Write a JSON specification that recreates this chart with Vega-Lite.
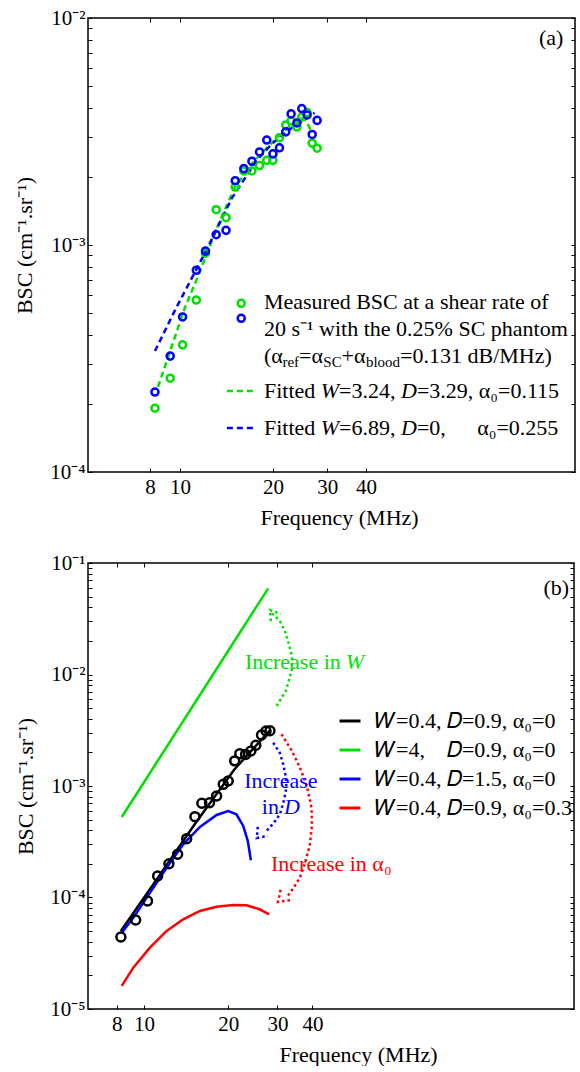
{
  "$schema": "https://vega.github.io/schema/vega-lite/v6.json",
  "background": "white",
  "padding": {"left": 12, "top": 6, "right": 0, "bottom": 0},
  "spacing": 22,
  "config": {
    "font": "Liberation Serif",
    "view": {"stroke": "black", "strokeWidth": 1.5},
    "axis": {
      "domain": false, "grid": false,
      "labelFont": "Liberation Serif", "labelFontSize": 21, "labelColor": "black",
      "titleFont": "Liberation Serif", "titleFontSize": 22, "titleFontWeight": "normal", "titleColor": "black",
      "tickColor": "black", "tickSize": -4, "tickWidth": 1,
      "labelOverlap": false, "labelFlush": false
    },
    "text": {"font": "Liberation Serif", "fontSize": 22, "baseline": "middle"}
  },
  "datasets": {
    "measA": [
      {"f": 8.3, "bsc": 0.000191, "s": "g"}, {"f": 9.3, "bsc": 0.000259, "s": "g"}, {"f": 10.2, "bsc": 0.000363, "s": "g"},
      {"f": 11.3, "bsc": 0.000572, "s": "g"}, {"f": 12.1, "bsc": 0.00092, "s": "g"}, {"f": 13.1, "bsc": 0.00143, "s": "g"},
      {"f": 14.1, "bsc": 0.00132, "s": "g"}, {"f": 15.1, "bsc": 0.0018, "s": "g"}, {"f": 16.1, "bsc": 0.00212, "s": "g"},
      {"f": 17.1, "bsc": 0.00212, "s": "g"}, {"f": 18.1, "bsc": 0.00224, "s": "g"}, {"f": 19.1, "bsc": 0.00236, "s": "g"},
      {"f": 20.0, "bsc": 0.00236, "s": "g"}, {"f": 21.0, "bsc": 0.00297, "s": "g"}, {"f": 22.0, "bsc": 0.00338, "s": "g"},
      {"f": 22.9, "bsc": 0.00352, "s": "g"}, {"f": 23.9, "bsc": 0.00331, "s": "g"}, {"f": 24.8, "bsc": 0.00366, "s": "g"},
      {"f": 25.8, "bsc": 0.00383, "s": "g"}, {"f": 26.8, "bsc": 0.00281, "s": "g"}, {"f": 27.8, "bsc": 0.00267, "s": "g"},
      {"f": 8.3, "bsc": 0.000225, "s": "b"}, {"f": 9.3, "bsc": 0.000324, "s": "b"}, {"f": 10.2, "bsc": 0.000482, "s": "b"},
      {"f": 11.3, "bsc": 0.000774, "s": "b"}, {"f": 12.1, "bsc": 0.00094, "s": "b"}, {"f": 13.1, "bsc": 0.00111, "s": "b"},
      {"f": 14.1, "bsc": 0.00116, "s": "b"}, {"f": 15.1, "bsc": 0.00192, "s": "b"}, {"f": 16.1, "bsc": 0.00217, "s": "b"},
      {"f": 17.1, "bsc": 0.00234, "s": "b"}, {"f": 18.1, "bsc": 0.00257, "s": "b"}, {"f": 19.1, "bsc": 0.0029, "s": "b"},
      {"f": 20.0, "bsc": 0.00252, "s": "b"}, {"f": 21.0, "bsc": 0.00268, "s": "b"}, {"f": 22.0, "bsc": 0.00315, "s": "b"},
      {"f": 22.9, "bsc": 0.00378, "s": "b"}, {"f": 23.9, "bsc": 0.00345, "s": "b"}, {"f": 24.8, "bsc": 0.00399, "s": "b"},
      {"f": 25.8, "bsc": 0.00374, "s": "b"}, {"f": 26.8, "bsc": 0.00307, "s": "b"}, {"f": 27.8, "bsc": 0.00354, "s": "b"}
    ],
    "fitA": [
      {"f": 8.49, "bsc": 0.000237, "s": "g"}, {"f": 10.37, "bsc": 0.000528, "s": "g"}, {"f": 11.52, "bsc": 0.000745, "s": "g"},
      {"f": 13.37, "bsc": 0.00125, "s": "g"}, {"f": 15.07, "bsc": 0.0018, "s": "g"}, {"f": 17.36, "bsc": 0.00234, "s": "g"},
      {"f": 20.1, "bsc": 0.00287, "s": "g"}, {"f": 23.4, "bsc": 0.00345, "s": "g"}, {"f": 24.6, "bsc": 0.00362, "s": "g"},
      {"f": 25.6, "bsc": 0.00355, "s": "g"}, {"f": 26.5, "bsc": 0.0032, "s": "g"},
      {"f": 8.3, "bsc": 0.000341, "s": "b"}, {"f": 9.68, "bsc": 0.000522, "s": "b"}, {"f": 12.14, "bsc": 0.00094, "s": "b"},
      {"f": 13.17, "bsc": 0.00118, "s": "b"}, {"f": 14.73, "bsc": 0.00161, "s": "b"}, {"f": 17.64, "bsc": 0.00234, "s": "b"},
      {"f": 19.85, "bsc": 0.00279, "s": "b"}, {"f": 23.2, "bsc": 0.00331, "s": "b"}, {"f": 27.3, "bsc": 0.00382, "s": "b"}
    ],
    "legSymA": [
      {"f": 15.79, "bsc": 0.0005535, "s": "g"}, {"f": 15.79, "bsc": 0.0004753, "s": "b"}
    ],
    "legDashA": [
      {"f": 14.19, "bsc": 0.0002274, "s": "g"}, {"f": 17.23, "bsc": 0.0002274, "s": "g"},
      {"f": 14.19, "bsc": 0.0001563, "s": "b"}, {"f": 17.23, "bsc": 0.0001563, "s": "b"}
    ],
    "txtA": [
      {"f": 18.7, "bsc": 0.000561, "t": "Measured BSC at a shear rate of", "c": "n"},
      {"f": 18.7, "bsc": 0.0004266, "t": "20 s⁻¹ with the 0.25% SC phantom", "c": "n"},
      {"f": 18.7, "bsc": 0.0003243, "t": "(α", "c": "n"},
      {"f": 21.47, "bsc": 0.0003243, "t": "ref", "c": "s"},
      {"f": 24.29, "bsc": 0.0003243, "t": "=α", "c": "n"},
      {"f": 29.11, "bsc": 0.0003243, "t": "SC", "c": "s"},
      {"f": 33.37, "bsc": 0.0003243, "t": "+α", "c": "n"},
      {"f": 39.99, "bsc": 0.0003243, "t": "blood", "c": "s"},
      {"f": 51.6, "bsc": 0.0003243, "t": "=0.131 dB/MHz)", "c": "n"},
      {"f": 18.7, "bsc": 0.0002274, "t": "Fitted", "c": "n"},
      {"f": 28.56, "bsc": 0.0002274, "t": "W", "c": "i"},
      {"f": 32.75, "bsc": 0.0002274, "t": "=3.24,", "c": "n"},
      {"f": 51.95, "bsc": 0.0002274, "t": "D", "c": "i"},
      {"f": 58.48, "bsc": 0.0002274, "t": "=3.29, α₀=0.115", "c": "n"},
      {"f": 18.7, "bsc": 0.0001565, "t": "Fitted", "c": "n"},
      {"f": 28.56, "bsc": 0.0001565, "t": "W", "c": "i"},
      {"f": 32.75, "bsc": 0.0001565, "t": "=6.89,", "c": "n"},
      {"f": 51.95, "bsc": 0.0001565, "t": "D", "c": "i"},
      {"f": 58.48, "bsc": 0.0001565, "t": "=0,", "c": "n"},
      {"f": 91.65, "bsc": 0.0001565, "t": "α₀=0.255", "c": "n"},
      {"f": 145.2, "bsc": 0.00816, "t": "(a)", "c": "n"}
    ],
    "curB": [
      {"f": 8.27, "bsc": 0.00005, "s": "k"}, {"f": 11.2, "bsc": 0.00015, "s": "k"}, {"f": 15.2, "bsc": 0.000456, "s": "k"},
      {"f": 21.0, "bsc": 0.0014, "s": "k"}, {"f": 28.2, "bsc": 0.00316, "s": "k"},
      {"f": 8.33, "bsc": 0.000527, "s": "g"}, {"f": 27.8, "bsc": 0.0593, "s": "g"},
      {"f": 8.33, "bsc": 0.0000483, "s": "b"}, {"f": 9.16, "bsc": 0.0000659, "s": "b"}, {"f": 10.5, "bsc": 0.00011, "s": "b"},
      {"f": 12.05, "bsc": 0.000185, "s": "b"}, {"f": 13.81, "bsc": 0.0003, "s": "b"}, {"f": 15.85, "bsc": 0.000429, "s": "b"},
      {"f": 18.18, "bsc": 0.00055, "s": "b"}, {"f": 20.0, "bsc": 0.000597, "s": "b"}, {"f": 21.4, "bsc": 0.000557, "s": "b"},
      {"f": 22.63, "bsc": 0.000438, "s": "b"}, {"f": 23.5, "bsc": 0.000321, "s": "b"}, {"f": 24.1, "bsc": 0.000216, "s": "b"},
      {"f": 8.33, "bsc": 0.0000161, "s": "r"}, {"f": 9.16, "bsc": 0.0000235, "s": "r"}, {"f": 10.5, "bsc": 0.0000355, "s": "r"},
      {"f": 12.05, "bsc": 0.0000501, "s": "r"}, {"f": 13.81, "bsc": 0.0000637, "s": "r"}, {"f": 15.85, "bsc": 0.0000757, "s": "r"},
      {"f": 18.18, "bsc": 0.0000827, "s": "r"}, {"f": 20.84, "bsc": 0.0000857, "s": "r"}, {"f": 23.27, "bsc": 0.0000851, "s": "r"},
      {"f": 25.9, "bsc": 0.0000784, "s": "r"}, {"f": 28.03, "bsc": 0.0000707, "s": "r"}
    ],
    "ptsB": [
      {"f": 8.27, "bsc": 0.0000442}, {"f": 9.34, "bsc": 0.0000628}, {"f": 10.3, "bsc": 0.000093}, {"f": 11.19, "bsc": 0.000156},
      {"f": 12.28, "bsc": 0.000201}, {"f": 13.19, "bsc": 0.000244}, {"f": 14.21, "bsc": 0.000337}, {"f": 15.21, "bsc": 0.000531},
      {"f": 16.1, "bsc": 0.0007}, {"f": 17.15, "bsc": 0.000708}, {"f": 18.18, "bsc": 0.000813}, {"f": 19.2, "bsc": 0.001035},
      {"f": 20.0, "bsc": 0.00111}, {"f": 21.1, "bsc": 0.00168}, {"f": 22.0, "bsc": 0.00195}, {"f": 23.07, "bsc": 0.00192},
      {"f": 24.1, "bsc": 0.00206}, {"f": 25.1, "bsc": 0.00232}, {"f": 26.3, "bsc": 0.00287}, {"f": 27.3, "bsc": 0.00311},
      {"f": 28.2, "bsc": 0.00313}
    ],
    "arcB": [
      {"f": 29.8, "bsc": 0.00522, "a": "W", "o": 1}, {"f": 32.1, "bsc": 0.00711, "a": "W", "o": 2},
      {"f": 33.7, "bsc": 0.01075, "a": "W", "o": 3}, {"f": 33.8, "bsc": 0.01466, "a": "W", "o": 4},
      {"f": 33.2, "bsc": 0.0174, "a": "W", "o": 5}, {"f": 32.1, "bsc": 0.02356, "a": "W", "o": 6},
      {"f": 30.6, "bsc": 0.0302, "a": "W", "o": 7}, {"f": 28.6, "bsc": 0.0356, "a": "W", "o": 8},
      {"f": 28.4, "bsc": 0.0302, "a": "Wh", "o": 1}, {"f": 28.2, "bsc": 0.0379, "a": "Wh", "o": 2}, {"f": 30.8, "bsc": 0.0349, "a": "Wh", "o": 3},
      {"f": 28.96, "bsc": 0.002445, "a": "D", "o": 1}, {"f": 30.6, "bsc": 0.001977, "a": "D", "o": 2},
      {"f": 31.45, "bsc": 0.001566, "a": "D", "o": 3}, {"f": 32.1, "bsc": 0.00123, "a": "D", "o": 4},
      {"f": 32.3, "bsc": 0.000966, "a": "D", "o": 5}, {"f": 31.6, "bsc": 0.000734, "a": "D", "o": 6},
      {"f": 30.6, "bsc": 0.000557, "a": "D", "o": 7}, {"f": 29.1, "bsc": 0.000466, "a": "D", "o": 8},
      {"f": 27.4, "bsc": 0.000395, "a": "D", "o": 9},
      {"f": 25.5, "bsc": 0.000429, "a": "Dh", "o": 1}, {"f": 25.3, "bsc": 0.000342, "a": "Dh", "o": 2}, {"f": 27.7, "bsc": 0.000356, "a": "Dh", "o": 3},
      {"f": 31.0, "bsc": 0.00291, "a": "A", "o": 1}, {"f": 33.8, "bsc": 0.00206, "a": "A", "o": 2},
      {"f": 36.1, "bsc": 0.00146, "a": "A", "o": 3}, {"f": 38.2, "bsc": 0.001, "a": "A", "o": 4},
      {"f": 39.7, "bsc": 0.000639, "a": "A", "o": 5}, {"f": 39.8, "bsc": 0.000438, "a": "A", "o": 6},
      {"f": 39.2, "bsc": 0.0003, "a": "A", "o": 7}, {"f": 37.6, "bsc": 0.000204, "a": "A", "o": 8},
      {"f": 36.1, "bsc": 0.000151, "a": "A", "o": 9}, {"f": 34.0, "bsc": 0.000119, "a": "A", "o": 10},
      {"f": 32.3, "bsc": 0.0001, "a": "A", "o": 11},
      {"f": 30.8, "bsc": 0.000117, "a": "Ah", "o": 1}, {"f": 30.1, "bsc": 0.0000912, "a": "Ah", "o": 2}, {"f": 33.5, "bsc": 0.000095, "a": "Ah", "o": 3}
    ],
    "txtB": [
      {"f": 50.5, "bsc": 0.01294, "t": "Increase in", "c": "g"},
      {"f": 50.5, "bsc": 0.01294, "t": "W", "c": "gi"},
      {"f": 30.85, "bsc": 0.001109, "t": "Increase", "c": "bc"},
      {"f": 30.35, "bsc": 0.000648, "t": "in", "c": "b"},
      {"f": 30.35, "bsc": 0.000648, "t": "D", "c": "bi"},
      {"f": 46.7, "bsc": 0.0002, "t": "Increase in α₀", "c": "rc"},
      {"f": 297.3, "bsc": 0.06005, "t": "(b)", "c": "kc"}
    ]
  },
  "resolve": {"scale": {"color": "independent", "stroke": "independent", "fill": "independent"}, "legend": {"color": "independent"}},
  "vconcat": [
    {
      "width": 487, "height": 454,
      "resolve": {"axis": {"x": "independent", "y": "independent"}},
      "layer": [
        {
          "data": {"name": "fitA"},
          "mark": {"type": "line", "strokeDash": [6, 4], "strokeWidth": 2.5},
          "encoding": {
            "x": {"field": "f", "type": "quantitative", "scale": {"type": "log", "domain": [5.04, 190], "nice": false},
                  "axis": {"values": [8, 10, 20, 30, 40], "labelExpr": "datum.value", "labelPadding": 8, "title": "Frequency (MHz)", "titleX": 251, "titleY": 52, "titleBaseline": "alphabetic", "titleAnchor": "middle", "titleAlign": "center"}},
            "y": {"field": "bsc", "type": "quantitative", "scale": {"type": "log", "domain": [0.0001, 0.01], "nice": false},
                  "axis": {"values": [0.0001, 0.0002, 0.0003, 0.0004, 0.0005, 0.0006, 0.0007, 0.0008, 0.0009, 0.001, 0.002, 0.003, 0.004, 0.005, 0.006, 0.007, 0.008, 0.009, 0.01],
                           "labelExpr": "abs(log(datum.value)/LN10 - round(log(datum.value)/LN10)) < 0.01 ? '10' + (round(log(datum.value)/LN10) == -2 ? '⁻²' : round(log(datum.value)/LN10) == -3 ? '⁻³' : '⁻⁴') : ''",
                           "labelPadding": 7, "title": "BSC (cm⁻¹.sr⁻¹)", "titleX": -57, "titleY": 227, "titleAngle": 270, "titleBaseline": "alphabetic", "titleAlign": "center"}},
            "stroke": {"field": "s", "type": "nominal", "scale": {"domain": ["g", "b"], "range": ["#00e000", "#0000ff"]}, "legend": null}
          }
        },
        {
          "data": {"name": "measA"},
          "mark": {"type": "point", "filled": false, "strokeWidth": 2.5, "size": 50, "opacity": 1},
          "encoding": {
            "x": {"field": "f", "type": "quantitative", "scale": {"type": "log", "domain": [5.04, 190], "nice": false},
                  "axis": {"orient": "top", "values": [8, 10, 20, 30, 40], "labels": false, "title": null}},
            "y": {"field": "bsc", "type": "quantitative", "scale": {"type": "log", "domain": [0.0001, 0.01], "nice": false},
                  "axis": {"orient": "right", "values": [0.0001, 0.0002, 0.0003, 0.0004, 0.0005, 0.0006, 0.0007, 0.0008, 0.0009, 0.001, 0.002, 0.003, 0.004, 0.005, 0.006, 0.007, 0.008, 0.009, 0.01], "labels": false, "title": null}},
            "stroke": {"field": "s", "type": "nominal", "scale": {"domain": ["g", "b"], "range": ["#00e000", "#0000ff"]}, "legend": null}
          }
        },
        {
          "data": {"name": "legSymA"},
          "mark": {"type": "point", "filled": false, "strokeWidth": 2.5, "size": 50, "opacity": 1},
          "encoding": {
            "x": {"field": "f", "type": "quantitative", "axis": null},
            "y": {"field": "bsc", "type": "quantitative", "axis": null},
            "stroke": {"field": "s", "type": "nominal", "legend": null}
          }
        },
        {
          "data": {"name": "legDashA"},
          "mark": {"type": "line", "strokeDash": [6, 4], "strokeWidth": 2.5},
          "encoding": {
            "x": {"field": "f", "type": "quantitative", "axis": null},
            "y": {"field": "bsc", "type": "quantitative", "axis": null},
            "stroke": {"field": "s", "type": "nominal", "legend": null}
          }
        },
        {
          "data": {"name": "txtA"},
          "transform": [{"filter": "datum.c == 'n'"}],
          "mark": {"type": "text", "align": "left", "fontSize": 22, "color": "black"},
          "encoding": {
            "x": {"field": "f", "type": "quantitative", "axis": null},
            "y": {"field": "bsc", "type": "quantitative", "axis": null},
            "text": {"field": "t"}
          }
        },
        {
          "data": {"name": "txtA"},
          "transform": [{"filter": "datum.c == 'i'"}],
          "mark": {"type": "text", "align": "left", "fontSize": 22, "fontStyle": "italic", "color": "black"},
          "encoding": {
            "x": {"field": "f", "type": "quantitative", "axis": null},
            "y": {"field": "bsc", "type": "quantitative", "axis": null},
            "text": {"field": "t"}
          }
        },
        {
          "data": {"name": "txtA"},
          "transform": [{"filter": "datum.c == 's'"}],
          "mark": {"type": "text", "align": "left", "fontSize": 15, "dy": 6, "color": "black"},
          "encoding": {
            "x": {"field": "f", "type": "quantitative", "axis": null},
            "y": {"field": "bsc", "type": "quantitative", "axis": null},
            "text": {"field": "t"}
          }
        }
      ]
    },
    {
      "width": 486, "height": 446,
      "resolve": {"axis": {"x": "independent", "y": "independent"}},
      "layer": [
        {
          "data": {"name": "curB"},
          "mark": {"type": "line", "strokeWidth": 2.5},
          "encoding": {
            "x": {"field": "f", "type": "quantitative", "scale": {"type": "log", "domain": [6.31, 344], "nice": false},
                  "axis": {"values": [8, 10, 20, 30, 40], "labelExpr": "datum.value", "labelPadding": 8, "title": "Frequency (MHz)", "titleX": 270, "titleY": 52, "titleBaseline": "alphabetic", "titleAlign": "center"}},
            "y": {"field": "bsc", "type": "quantitative", "scale": {"type": "log", "domain": [0.00001, 0.1], "nice": false},
                  "axis": {"values": [0.00001, 0.00002, 0.00003, 0.00004, 0.00005, 0.00006, 0.00007, 0.00008, 0.00009, 0.0001, 0.0002, 0.0003, 0.0004, 0.0005, 0.0006, 0.0007, 0.0008, 0.0009, 0.001, 0.002, 0.003, 0.004, 0.005, 0.006, 0.007, 0.008, 0.009, 0.01, 0.02, 0.03, 0.04, 0.05, 0.06, 0.07, 0.08, 0.09, 0.1],
                           "labelExpr": "abs(log(datum.value)/LN10 - round(log(datum.value)/LN10)) < 0.01 ? '10' + (round(log(datum.value)/LN10) == -1 ? '⁻¹' : round(log(datum.value)/LN10) == -2 ? '⁻²' : round(log(datum.value)/LN10) == -3 ? '⁻³' : round(log(datum.value)/LN10) == -4 ? '⁻⁴' : '⁻⁵') : ''",
                           "labelPadding": 7, "title": "BSC (cm⁻¹.sr⁻¹)", "titleX": -56, "titleY": 223, "titleAngle": 270, "titleBaseline": "alphabetic", "titleAlign": "center"}},
            "color": {"field": "s", "type": "nominal", "scale": {"domain": ["k", "g", "b", "r"], "range": ["#000000", "#00e000", "#0000ff", "#ff0000"]},
                      "legend": {"orient": "none", "legendX": 250, "legendY": 146, "title": null, "symbolType": "stroke", "symbolSize": 441, "symbolStrokeWidth": 3,
                                 "labelFont": "Liberation Serif", "labelFontSize": 22, "labelColor": "black", "labelOffset": 13, "rowPadding": 6, "labelLimit": 0,
                                 "labelExpr": "datum.value == 'k' ? '𝑊=0.4, 𝐷=0.9, α₀=0' : datum.value == 'g' ? '𝑊=4,\u00a0\u00a0\u00a0\u00a0𝐷=0.9, α₀=0' : datum.value == 'b' ? '𝑊=0.4, 𝐷=1.5, α₀=0' : '𝑊=0.4, 𝐷=0.9, α₀=0.3'"}}
          }
        },
        {
          "data": {"name": "ptsB"},
          "mark": {"type": "point", "filled": false, "strokeWidth": 2.5, "size": 80, "color": "black", "opacity": 1},
          "encoding": {
            "x": {"field": "f", "type": "quantitative", "scale": {"type": "log", "domain": [6.31, 344], "nice": false},
                  "axis": {"orient": "top", "values": [8, 10, 20, 30, 40], "labels": false, "title": null}},
            "y": {"field": "bsc", "type": "quantitative", "scale": {"type": "log", "domain": [0.00001, 0.1], "nice": false},
                  "axis": {"orient": "right", "values": [0.00001, 0.00002, 0.00003, 0.00004, 0.00005, 0.00006, 0.00007, 0.00008, 0.00009, 0.0001, 0.0002, 0.0003, 0.0004, 0.0005, 0.0006, 0.0007, 0.0008, 0.0009, 0.001, 0.002, 0.003, 0.004, 0.005, 0.006, 0.007, 0.008, 0.009, 0.01, 0.02, 0.03, 0.04, 0.05, 0.06, 0.07, 0.08, 0.09, 0.1], "labels": false, "title": null}}
          }
        },
        {
          "data": {"name": "arcB"},
          "mark": {"type": "line", "strokeWidth": 2.5, "strokeDash": [2.5, 3]},
          "encoding": {
            "x": {"field": "f", "type": "quantitative", "axis": null},
            "y": {"field": "bsc", "type": "quantitative", "axis": null},
            "stroke": {"field": "a", "type": "nominal", "scale": {"domain": ["W", "Wh", "D", "Dh", "A", "Ah"], "range": ["#00e000", "#00e000", "#0000ff", "#0000ff", "#ff0000", "#ff0000"]}, "legend": null},
            "detail": {"field": "a"},
            "order": {"field": "o", "type": "quantitative"}
          }
        },
        {
          "data": {"name": "txtB"},
          "transform": [{"filter": "datum.c == 'g' || datum.c == 'b'"}],
          "mark": {"type": "text", "align": "right", "fontSize": 22},
          "encoding": {
            "x": {"field": "f", "type": "quantitative", "axis": null},
            "y": {"field": "bsc", "type": "quantitative", "axis": null},
            "text": {"field": "t"},
            "fill": {"field": "c", "type": "nominal", "scale": {"domain": ["g", "gi", "b", "bi", "bc", "rc", "kc"], "range": ["#00e000", "#00e000", "#0000ff", "#0000ff", "#0000ff", "#ff0000", "#000000"]}, "legend": null}
          }
        },
        {
          "data": {"name": "txtB"},
          "transform": [{"filter": "datum.c == 'gi' || datum.c == 'bi'"}],
          "mark": {"type": "text", "align": "left", "fontSize": 22, "fontStyle": "italic", "dx": 5},
          "encoding": {
            "x": {"field": "f", "type": "quantitative", "axis": null},
            "y": {"field": "bsc", "type": "quantitative", "axis": null},
            "text": {"field": "t"},
            "fill": {"field": "c", "type": "nominal", "legend": null}
          }
        },
        {
          "data": {"name": "txtB"},
          "transform": [{"filter": "datum.c == 'bc' || datum.c == 'rc' || datum.c == 'kc'"}],
          "mark": {"type": "text", "align": "center", "fontSize": 22},
          "encoding": {
            "x": {"field": "f", "type": "quantitative", "axis": null},
            "y": {"field": "bsc", "type": "quantitative", "axis": null},
            "text": {"field": "t"},
            "fill": {"field": "c", "type": "nominal", "legend": null}
          }
        }
      ]
    }
  ]
}
